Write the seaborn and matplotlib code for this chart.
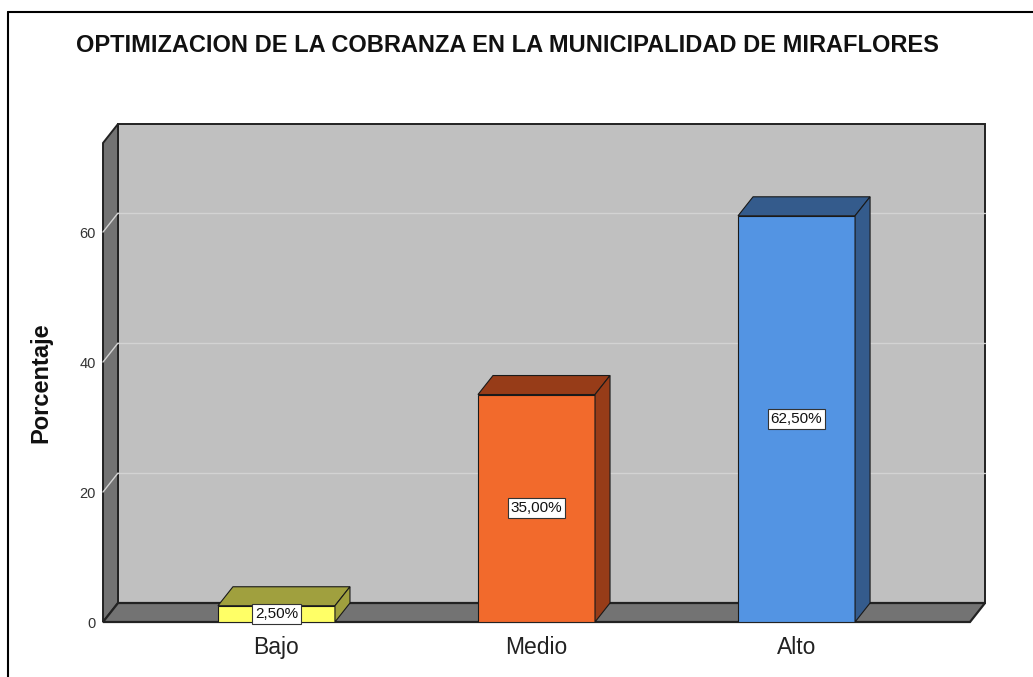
import seaborn as sns
import matplotlib.pyplot as plt
from matplotlib.patches import Polygon, Rectangle

# datos
categorias = ["Bajo", "Medio", "Alto"]
porcentajes = [2.5, 35.0, 62.5]
etiquetas = ["2,50%", "35,00%", "62,50%"]
ticks_y = [0, 20, 40, 60]

color_frente = ["#ffff66", "#f26a2c", "#5394e3"]
color_lado = ["#a0a03e", "#973c18", "#345b8c"]

sns.set_theme(style="white")
plt.rcParams['font.family'] = ['Liberation Sans', 'DejaVu Sans']

fig = plt.figure(figsize=(10.33, 6.77), dpi=100)
ax = fig.add_axes([103 / 1033, 55 / 677, 867 / 1033, 479 / 677])
ax.set_facecolor("none")

sns.barplot(x=categorias, y=porcentajes, hue=categorias, palette=color_frente,
            width=0.45, edgecolor="#1a1a1a", linewidth=0.8, legend=False,
            saturation=1, ax=ax, zorder=3)

x0, x1 = -0.667, 2.667
ymax = 73.7
ax.set_xlim(x0, x1)
ax.set_ylim(0, ymax)

# desplazamiento de profundidad (15 px, 19 px)
ddx = 15 / 260
ddy = 19 / 6.5

# pared de fondo
ax.add_patch(Rectangle((x0 + ddx, ddy), x1 - x0, ymax, facecolor="#c0c0c0",
                       edgecolor="#222222", lw=1.4, clip_on=False, zorder=0))
# pared izquierda
ax.add_patch(Polygon([(x0, 0), (x0, ymax), (x0 + ddx, ymax + ddy), (x0 + ddx, ddy)],
                     closed=True, facecolor="#737373", edgecolor="#222222", lw=1.4,
                     clip_on=False, zorder=1))
# piso
ax.add_patch(Polygon([(x0, 0), (x1, 0), (x1 + ddx, ddy), (x0 + ddx, ddy)],
                     closed=True, facecolor="#737373", edgecolor="#222222", lw=1.6,
                     clip_on=False, zorder=1))

# lineas de cuadricula
for t in ticks_y[1:]:
    ax.plot([x0 + ddx, x1 + ddx], [t + ddy, t + ddy], color="#d3d3d3", lw=1,
            clip_on=False, zorder=1.5)
    ax.plot([x0, x0 + ddx], [t, t + ddy], color="#d3d3d3", lw=1,
            clip_on=False, zorder=1.5)

# caras 3D de las barras
barras = sorted([p for c in ax.containers for p in c], key=lambda p: p.get_x())
for i, p in enumerate(barras):
    bx, bw, bh = p.get_x(), p.get_width(), p.get_height()
    tapa = Polygon([(bx, bh), (bx + bw, bh), (bx + bw + ddx, bh + ddy), (bx + ddx, bh + ddy)],
                   closed=True, facecolor=color_lado[i], edgecolor="#1a1a1a", lw=0.8,
                   clip_on=False, zorder=3)
    lado = Polygon([(bx + bw, 0), (bx + bw, bh), (bx + bw + ddx, bh + ddy), (bx + bw + ddx, ddy)],
                   closed=True, facecolor=color_lado[i], edgecolor="#1a1a1a", lw=0.8,
                   clip_on=False, zorder=3)
    ax.add_patch(tapa)
    ax.add_patch(lado)
    ax.text(bx + bw / 2, bh / 2, etiquetas[i], ha="center", va="center", fontsize=11,
            color="#111111", zorder=5,
            bbox=dict(boxstyle="square,pad=0.2", facecolor="white", edgecolor="#333333", lw=0.8))

for s in ax.spines.values():
    s.set_visible(False)

ax.set_yticks(ticks_y)
ax.set_yticklabels([str(t) for t in ticks_y])
ax.tick_params(axis="y", length=0, pad=5, labelsize=10.5, labelcolor="#333333")
ax.tick_params(axis="x", length=0, pad=10, labelsize=16.5, labelcolor="#222222")
ax.set_xlabel("")
ax.set_ylabel("Porcentaje", fontsize=17, fontweight="bold", color="#111111", labelpad=20)

fig.text(507 / 1033, 1 - 45 / 677,
         "OPTIMIZACION DE LA COBRANZA EN LA MUNICIPALIDAD DE MIRAFLORES",
         ha="center", va="center", fontsize=17, fontweight="bold", color="#111111")

# marco exterior
fig.add_artist(plt.Line2D([8 / 1033, 8 / 1033], [0, 1 - 12 / 677], color="black", lw=1.5))
fig.add_artist(plt.Line2D([8 / 1033, 1], [1 - 12 / 677, 1 - 12 / 677], color="black", lw=1.5))

fig.savefig("out.png", dpi=100)
